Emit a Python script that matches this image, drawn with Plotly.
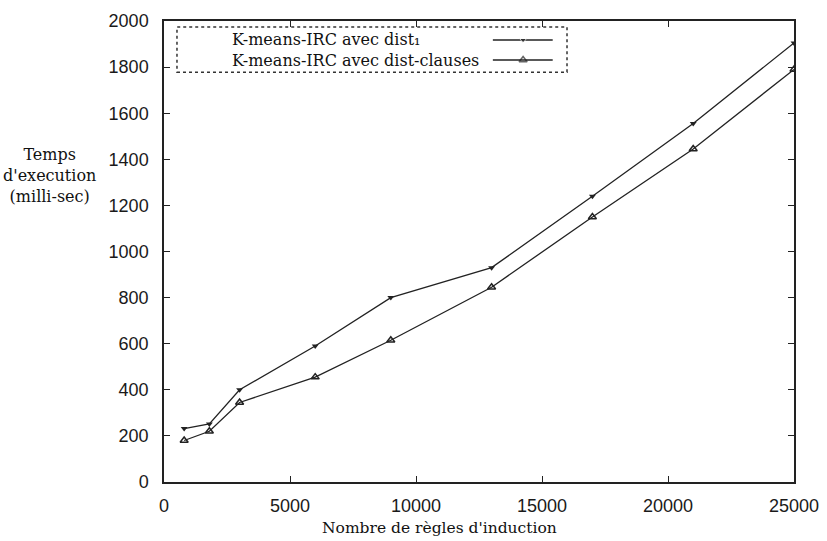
import plotly.graph_objects as go

x_vals = [800, 1800, 3000, 6000, 9000, 13000, 17000, 21000, 25000]
dist1 = [232, 252, 400, 590, 800, 930, 1240, 1555, 1905]
dist_clauses = [180, 220, 345, 455, 615, 845, 1150, 1445, 1790]
names = ["K-means-IRC avec dist\u2081", "K-means-IRC avec dist-clauses"]
x_ticks = [0, 5000, 10000, 15000, 20000, 25000]
x_tick_text = ["0", "5000", "10000", "15000", "20000", "25000"]
y_ticks = list(range(0, 2001, 200))

SERIF = "DejaVu Serif"
SANS = "Liberation Sans"
LC = "#222222"

fig = go.Figure()
fig.add_trace(go.Scatter(x=x_vals, y=dist1, mode="lines+markers",
                         line=dict(color=LC, width=1.3),
                         marker=dict(symbol="triangle-down", size=6, color=LC),
                         showlegend=False))
fig.add_trace(go.Scatter(x=x_vals, y=dist_clauses, mode="lines+markers",
                         line=dict(color=LC, width=1.3),
                         marker=dict(symbol="triangle-up-open", size=7, color=LC,
                                     line=dict(width=1.5, color=LC)),
                         showlegend=False))

# custom legend (text left, sample right), on overlay axis in paper-like units
leg_y = [0.9588, 0.9154]
sym = [dict(symbol="triangle-down", color=LC),
       dict(symbol="triangle-up-open", color=LC, line=dict(width=1.5, color=LC))]
sizes = [6, 7]
for i in range(2):
    fig.add_trace(go.Scatter(x=[0.522, 0.570, 0.617], y=[leg_y[i]] * 3,
                             mode="lines+markers", xaxis="x2", yaxis="y2",
                             line=dict(color=LC, width=1.3),
                             marker=dict(size=[0, sizes[i], 0], **sym[i]),
                             showlegend=False, hoverinfo="skip"))
    fig.add_annotation(x=0.1048, y=leg_y[i], xref="paper", yref="paper",
                       text=names[i], showarrow=False, xanchor="left", yanchor="middle",
                       font=dict(family=SERIF, size=16, color="#111"))

fig.add_shape(type="rect", xref="paper", yref="paper", x0=0.0206, x1=0.6397,
              y0=0.889, y1=0.987, line=dict(color="#333", width=1.5, dash="dot"))

fig.add_annotation(x=-0.181, y=0.664, xref="paper", yref="paper",
                   text="Temps<br>d'execution<br>(milli-sec)", showarrow=False,
                   xanchor="center", yanchor="middle", align="center",
                   font=dict(family=SERIF, size=16, color="#111"))
fig.add_annotation(x=0.438, y=-0.0998, xref="paper", yref="paper",
                   text="Nombre de règles d'induction", showarrow=False,
                   xanchor="center", yanchor="middle",
                   font=dict(family=SERIF, size=15.5, color="#111"))

axis_common = dict(showgrid=False, zeroline=False, showline=True, linecolor="#222",
                   linewidth=1.5, mirror="ticks", ticks="inside", ticklen=6,
                   tickcolor="#222", tickwidth=1.3, automargin=False,
                   tickfont=dict(family=SANS, size=18, color="#1a1a1a"))

fig.update_layout(
    width=827, height=541, margin=dict(l=164, r=33, t=21, b=59),
    paper_bgcolor="white", plot_bgcolor="white",
    xaxis=dict(range=[0, 25000], tickvals=x_ticks, ticktext=x_tick_text,
               ticklabelstandoff=7, **axis_common),
    yaxis=dict(range=[0, 2000], tickvals=y_ticks, ticklabelstandoff=10, **axis_common),
    xaxis2=dict(range=[0, 1], overlaying="x", visible=False),
    yaxis2=dict(range=[0, 1], overlaying="y", visible=False),
)

fig.write_html("out.html")
